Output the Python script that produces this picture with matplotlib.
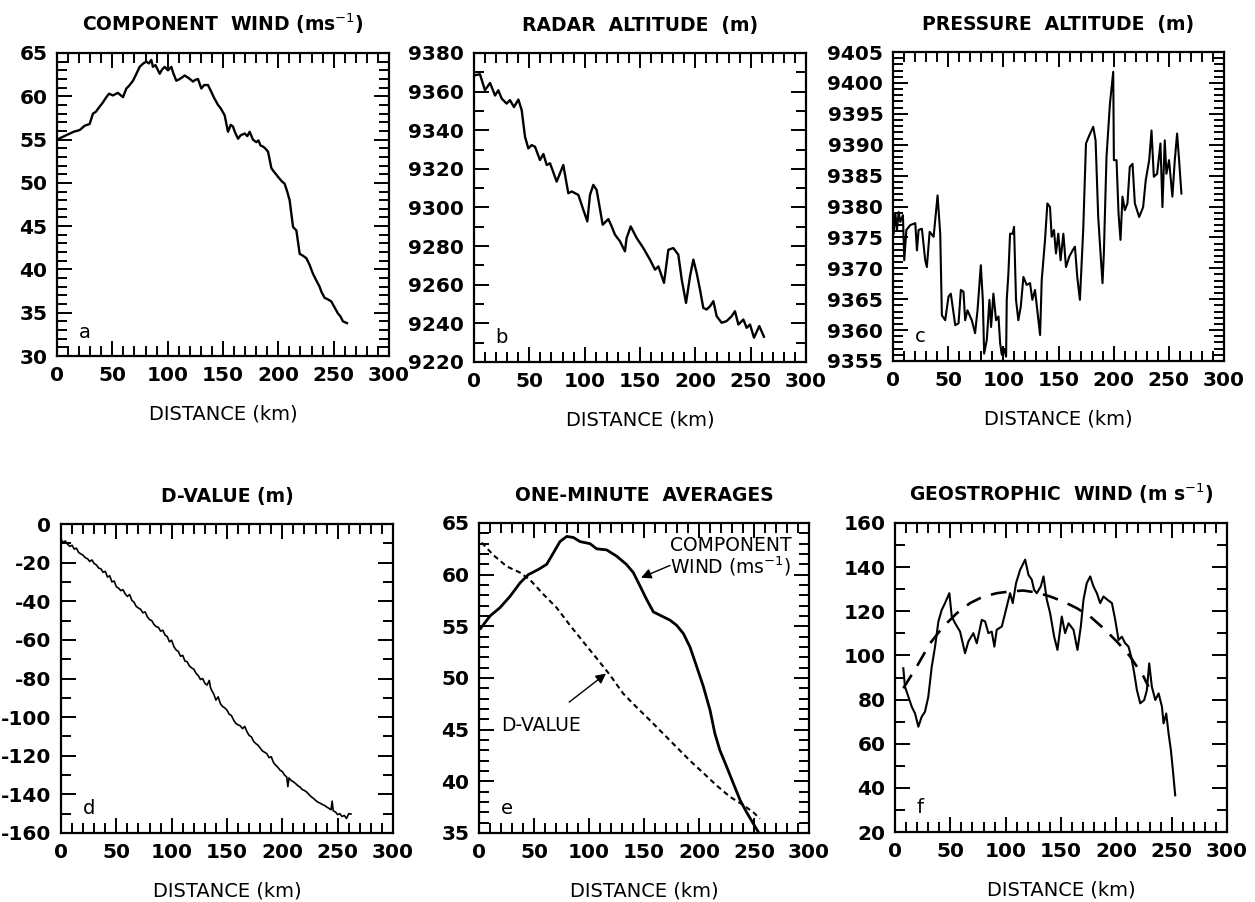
import matplotlib
matplotlib.use("Agg")
import matplotlib.pyplot as plt
from matplotlib.ticker import MultipleLocator

plt.rcParams['font.family'] = ['DejaVu Sans']
plt.rcParams['axes.unicode_minus'] = False

# ---------------- data ----------------
# (a) component wind (m/s)
wind_x = [0, 5, 10, 15, 20.5, 25, 29.5, 32.5, 35, 38.5, 41, 44.6, 47, 50.6, 55, 59.6, 62.7, 65, 68.7, 71, 74.7,
          78, 80.7, 83, 85.2, 86.7, 89, 92.8, 95, 97.3, 100.3, 103.3, 105, 107.8, 111, 115.4, 119, 122.9, 125,
          127.4, 130.4, 133, 136.4, 139.5, 142, 145.5, 148, 151.5, 154.5, 157, 159, 161, 163.6, 166, 169.6, 172,
          174.1, 177, 180.1, 182, 184, 186.1, 188, 190.7, 193.7, 196, 199.7, 203, 205.7, 208, 210.2, 213.3,
          216.3, 219.3, 222, 225.3, 228, 231.3, 234, 237.3, 239, 241.9, 244, 247.9, 250, 253.9, 256, 258.4, 262]
wind_y = [55.0, 55.3, 55.6, 55.9, 56.1, 56.6, 56.8, 58.0, 58.2, 58.8, 59.2, 59.9, 60.3, 60.1, 60.4, 59.9, 60.9,
          61.2, 61.8, 62.4, 63.4, 63.8, 64.0, 63.8, 64.2, 63.4, 63.6, 62.6, 63.1, 63.4, 63.0, 63.4, 62.7, 61.8,
          62.0, 62.4, 62.1, 61.7, 61.9, 62.0, 60.9, 61.3, 61.3, 60.5, 59.8, 59.0, 58.6, 57.8, 55.9, 56.7, 56.5,
          55.8, 55.1, 55.5, 55.7, 55.4, 55.9, 55.0, 54.7, 54.9, 54.3, 54.2, 54.0, 53.6, 51.7, 51.3, 50.7, 50.2,
          49.9, 49.0, 48.0, 44.9, 44.5, 41.8, 41.6, 41.3, 40.6, 39.5, 38.8, 38.0, 37.4, 36.7, 36.6, 36.3, 35.8,
          34.9, 34.6, 34.0, 33.8]

# (b) radar altitude (m)
radar_x = [0.9, 5.4, 9.9, 14.5, 19.0, 22.0, 25.0, 29.5, 32.5, 36.1, 40.1, 43.1, 46.1, 49.1, 52.1, 55.1, 59.6,
           62.7, 65.7, 68.7, 74.7, 80.7, 85.2, 88.3, 94.3, 98.8, 102.4, 104.8, 107.8, 110.8, 116.3, 121.4, 124.4,
           127.4, 131.9, 136.4, 137.9, 141.6, 147.0, 153.0, 159.0, 163.6, 166.6, 171.7, 175.6, 180.1, 184.6,
           187.7, 191.6, 195.2, 198.2, 201.2, 204.2, 207.2, 210.2, 213.3, 216.3, 219.3, 223.8, 228.3, 232.8,
           235.8, 238.9, 243.4, 246.4, 249.4, 253.0, 257.8, 262.0]
radar_y = [9368.5, 9369.0, 9360.7, 9364.5, 9358.0, 9360.7, 9356.4, 9353.8, 9355.6, 9352.0, 9355.9, 9350.4,
           9336.6, 9330.6, 9332.3, 9331.5, 9324.6, 9327.7, 9322.0, 9322.9, 9313.4, 9322.0, 9307.4, 9308.3,
           9306.5, 9298.8, 9292.8, 9306.5, 9311.7, 9309.1, 9291.1, 9294.0, 9290.2, 9285.9, 9282.5, 9277.3,
           9284.2, 9290.2, 9284.2, 9279.0, 9273.0, 9267.8, 9269.5, 9261.0, 9278.1, 9279.0, 9275.6, 9262.7,
           9250.6, 9264.4, 9273.0, 9266.1, 9257.5, 9248.0, 9247.2, 9248.9, 9251.5, 9243.7, 9240.3, 9241.2,
           9243.7, 9246.3, 9239.4, 9242.0, 9237.7, 9239.4, 9232.6, 9238.6, 9233.1]

# (c) pressure altitude (m)
press_x = [0.6, 2.1, 3.6, 5.1, 6.6, 9.0, 10.2, 12.1, 15.7, 20.2, 21.7, 23.2, 26.2, 29.2, 30.7, 33.2, 36.8,
           40.4, 42.8, 44.3, 47.3, 50.3, 52.4, 56.4, 59.4, 61.5, 63.9, 65.4, 67.5, 71.4, 74.4, 76.6, 79.6, 81.4,
           82.6, 85.0, 87.4, 88.9, 91.0, 93.4, 95.6, 97.1, 98.6, 100.7, 102.5, 103.1, 104.6, 106.1, 108.5, 109.7,
           111.5, 113.6, 115.8, 118.2, 121.2, 124.2, 126.3, 128.7, 133.3, 134.8, 137.8, 139.9, 142.3, 143.8,
           145.9, 147.7, 149.8, 151.9, 154.4, 156.8, 159.8, 162.8, 164.9, 167.0, 169.4, 172.4, 174.9, 177.9,
           181.5, 183.6, 186.0, 188.1, 189.9, 191.1, 193.5, 196.6, 199.6, 200.2, 202.6, 204.4, 206.2, 208.0,
           210.1, 212.5, 214.6, 217.1, 219.2, 223.1, 226.7, 229.1, 232.2, 234.3, 236.4, 239.4, 242.4, 244.2,
           246.3, 247.8, 250.2, 253.2, 255.4, 257.5, 259.3, 261.4]
press_y = [9375.6, 9378.9, 9376.2, 9379.1, 9377.5, 9378.6, 9371.3, 9376.2, 9377.0, 9377.3, 9372.9, 9376.2,
           9376.4, 9371.3, 9370.2, 9375.9, 9375.1, 9381.8, 9375.6, 9362.4, 9361.6, 9365.4, 9365.9, 9360.8,
           9361.1, 9366.5, 9366.2, 9361.6, 9363.2, 9361.6, 9359.5, 9363.2, 9370.5, 9364.9, 9356.2, 9358.4,
           9364.9, 9360.5, 9365.9, 9361.6, 9362.2, 9357.9, 9356.0, 9357.0, 9355.7, 9364.9, 9369.2, 9375.6,
           9375.6, 9376.7, 9364.9, 9361.6, 9363.8, 9368.6, 9367.3, 9367.6, 9364.9, 9366.5, 9359.2, 9368.1,
           9374.6, 9380.5, 9379.9, 9375.1, 9376.2, 9372.4, 9375.6, 9371.3, 9375.6, 9370.2, 9371.9, 9372.9,
           9373.5, 9368.6, 9364.9, 9376.2, 9390.2, 9391.5, 9392.9, 9390.7, 9378.3, 9372.4, 9367.6, 9372.4,
           9388.0, 9396.6, 9401.8, 9387.5, 9387.5, 9378.9, 9374.6, 9381.6, 9379.4, 9380.5, 9386.4, 9386.9,
           9380.5, 9378.3, 9379.9, 9384.3, 9387.5, 9392.3, 9384.8, 9385.3, 9390.2, 9379.9, 9390.7, 9385.3,
           9387.5, 9381.6, 9387.5, 9391.8, 9387.5, 9382.1]

# (d) D-value (m)
dval_x = [0, 2, 4, 6, 8, 10, 12, 14, 16, 18, 20, 22, 24, 26, 28, 30, 32, 34, 36, 38, 40, 42, 44, 46, 48, 50,
          52, 54, 56, 58, 60, 62, 64, 66, 68, 70, 72, 74, 76, 78, 80, 82, 84, 86, 88, 90, 92, 94, 96, 98, 100,
          102, 104, 106, 108, 110, 112, 114, 116, 118, 120, 122, 124, 126, 128, 130, 132, 134, 135, 136, 138,
          140, 142, 144, 146, 148, 150, 152, 154, 156, 158, 160, 162, 164, 166, 168, 170, 172, 174, 176, 178,
          180, 182, 184, 186, 188, 190, 192, 194, 196, 198, 200, 202, 204, 205, 206, 208, 210, 212, 214, 216,
          218, 220, 222, 224, 226, 228, 230, 232, 234, 236, 238, 240, 242, 244, 245, 246, 248, 250, 252, 254,
          256, 258, 260, 262]
dval_y = [-8.0, -9.5, -8.8, -10.5, -11.6, -11.0, -13.0, -12.5, -14.8, -15.5, -16.2, -17.5, -18.0, -19.4,
          -18.6, -20.5, -21.2, -22.8, -23.2, -25.0, -24.5, -27.5, -26.8, -30.0, -29.5, -32.5, -33.2, -34.5,
          -34.0, -36.2, -37.5, -36.5, -39.5, -40.5, -42.7, -43.5, -44.2, -46.0, -45.5, -48.0, -49.5, -50.0,
          -52.0, -53.1, -53.5, -55.5, -55.0, -57.5, -58.3, -61.0, -60.2, -63.5, -65.2, -66.0, -68.5, -68.0,
          -71.0, -71.3, -73.5, -74.5, -75.2, -77.3, -78.5, -80.5, -80.0, -82.5, -83.4, -81.0, -84.5, -86.0,
          -88.0, -91.2, -89.5, -93.0, -94.5, -95.2, -96.4, -98.5, -99.2, -101.5, -103.3, -104.0, -104.5,
          -106.0, -104.8, -107.5, -109.5, -110.2, -112.5, -113.7, -114.5, -116.0, -117.5, -118.2, -118.9,
          -121.0, -120.5, -123.5, -124.9, -126.0, -127.5, -128.2, -130.0, -131.0, -136.0, -131.5, -132.8,
          -133.5, -134.4, -135.5, -136.2, -137.5, -138.0, -138.8, -140.0, -141.2, -142.0, -143.1, -144.0,
          -144.5, -145.2, -145.7, -146.5, -147.2, -148.0, -143.5, -148.5, -149.1, -150.5, -150.0, -151.5,
          -150.9, -152.5, -150.0, -150.2]

# (e) one-minute averages
avg_wind_x = [1.5, 10, 19, 28.2, 37.3, 44.8, 53.9, 61.5, 67.6, 73.6, 79.7, 85.8, 91.8, 100.9, 107, 116, 125,
              134, 140.3, 146.4, 152.4, 158.5, 166, 173.6, 179.7, 185.8, 191.8, 197.9, 203.9, 210, 214.5, 219,
              225.2, 231.2, 237.3, 243.3, 249.4, 253.9]
avg_wind_y = [54.8, 56.0, 56.8, 57.9, 59.2, 60.0, 60.5, 61.0, 62.1, 63.2, 63.7, 63.6, 63.2, 63.0, 62.5, 62.4,
              61.8, 61.0, 60.2, 58.9, 57.6, 56.4, 56.0, 55.6, 55.1, 54.3, 53.0, 51.1, 49.2, 46.9, 44.6, 43.0,
              41.4, 39.8, 38.2, 37.0, 35.9, 35.1]
avg_dval_x = [2.4, 13, 25.2, 37.3, 46.4, 58.5, 70.6, 82.7, 94.8, 107, 119, 131, 143, 155.5, 167.6, 179.7,
              191.8, 204, 216, 228.2, 240.3, 249.4, 255.4]
avg_dval_y = [63.1, 61.9, 60.8, 60.2, 59.5, 58.1, 56.8, 55.1, 53.5, 51.9, 50.3, 48.5, 47.2, 45.9, 44.6, 43.3,
              42.0, 40.8, 39.6, 38.5, 37.7, 37.0, 36.4]

# (f) geostrophic wind (m/s) and fitted curve
geo_x = [7.5, 9.0, 12.1, 15.1, 18.1, 21.1, 24.1, 27.1, 30.1, 33.2, 36.2, 39.2, 42.2, 45.2, 49.1, 51.3, 54.3,
         58.8, 63.3, 66.3, 70.8, 73.9, 78.4, 81.4, 84.4, 87.4, 89.8, 91.9, 96.5, 99.5, 104.0, 106.4, 109.4,
         113.1, 117.6, 120.6, 123.6, 125.7, 128.1, 131.7, 134.2, 137.2, 140.2, 143.8, 146.8, 150.7, 153.7,
         156.8, 161.3, 164.9, 167.9, 170.3, 173.3, 176.4, 179.4, 182.4, 185.4, 188.4, 192.0, 196.0, 199.0,
         202.0, 205.0, 208.0, 211.0, 213.4, 216.2, 218.6, 221.6, 225.2, 227.6, 229.7, 232.1, 235.2, 238.2,
         241.2, 242.7, 245.1, 247.2, 249.3, 251.1, 253.2]
geo_y = [94.2, 85.8, 81.3, 76.8, 73.7, 67.7, 72.2, 74.5, 81.3, 94.9, 104.0, 115.4, 120.6, 123.7, 128.2, 117.6,
         114.6, 110.8, 101.0, 106.3, 110.1, 105.5, 116.1, 115.4, 110.1, 110.8, 104.0, 111.6, 113.1, 119.1,
         128.2, 123.7, 132.8, 138.8, 143.4, 136.5, 134.3, 129.7, 128.2, 131.2, 135.8, 125.2, 119.1, 108.5,
         102.5, 117.6, 110.1, 114.6, 111.6, 102.5, 113.1, 125.2, 132.8, 135.8, 131.2, 128.2, 123.7, 126.7,
         125.2, 123.7, 116.1, 107.0, 108.5, 105.5, 104.0, 99.5, 91.9, 84.3, 78.3, 79.8, 84.3, 96.4, 85.8,
         79.8, 82.8, 76.8, 69.2, 73.7, 64.6, 57.1, 48.0, 36.6]
fit_x = [7.5, 19.6, 31.7, 43.7, 55.8, 67.8, 79.9, 92, 104, 116, 128, 140.2, 152.2, 164.3, 176.4, 188.4, 200.5,
         212.5, 224.6, 229.1]
fit_y = [85.1, 94.9, 105.5, 113.1, 119.1, 123.7, 126.7, 128.2, 129.0, 129.4, 128.5, 126.7, 124.4, 121.4,
         117.6, 112.3, 106.3, 99.5, 90.4, 85.8]

titles = ["COMPONENT  WIND (ms$^{-1}$)", "RADAR  ALTITUDE  (m)", "PRESSURE  ALTITUDE  (m)",
          "D-VALUE (m)", "ONE-MINUTE  AVERAGES", "GEOSTROPHIC  WIND (m s$^{-1}$)"]
panel_letters = ["a", "b", "c", "d", "e", "f"]
y_limits = [(30, 65), (9220, 9380), (9355, 9405), (-160, 0), (35, 65), (20, 160)]
y_major = [5, 20, 5, 20, 5, 20]
y_minor = [1, 10, 1, 10, 1, 10]
xlabel = "DISTANCE (km)"

# ---------------- figure ----------------
W, H = 1255, 902
fig = plt.figure(figsize=(W / 100, H / 100), dpi=100)

boxes_px = [(57, 53, 389, 356), (474, 53, 806, 362), (893, 52, 1224, 361),
            (61, 524, 393, 833), (479, 523, 809, 833), (895, 523, 1227, 832)]

axes = []
for (l, t, r, b) in boxes_px:
    ax = fig.add_axes([l / W, 1 - b / H, (r - l) / W, (b - t) / H])
    axes.append(ax)

lw = 1.7
axes[0].plot(wind_x, wind_y, color='black', lw=lw)
axes[1].plot(radar_x, radar_y, color='black', lw=lw)
axes[2].plot(press_x, press_y, color='black', lw=1.5)
axes[3].plot(dval_x, dval_y, color='black', lw=1.2)
axes[4].plot(avg_wind_x, avg_wind_y, color='black', lw=2.0)
axes[4].plot(avg_dval_x, avg_dval_y, color='black', lw=1.5, linestyle=(0, (2.5, 1.8)))
axes[5].plot(geo_x, geo_y, color='black', lw=1.5)
axes[5].plot(fit_x, fit_y, color='black', lw=1.9, linestyle=(0, (6, 4)))

for i, ax in enumerate(axes):
    ax.set_xlim(0, 300)
    ax.set_ylim(*y_limits[i])
    ax.xaxis.set_major_locator(MultipleLocator(50))
    ax.xaxis.set_minor_locator(MultipleLocator(10))
    ax.yaxis.set_major_locator(MultipleLocator(y_major[i]))
    ax.yaxis.set_minor_locator(MultipleLocator(y_minor[i]))
    ax.tick_params(which='both', direction='in', top=True, right=True, width=1.4, colors='black')
    ax.tick_params(which='major', length=11, pad=7, labelsize=14.5)
    ax.tick_params(which='minor', length=7.5)
    for lab in ax.get_xticklabels() + ax.get_yticklabels():
        lab.set_fontweight('bold')
    for s in ax.spines.values():
        s.set_linewidth(1.6)
    ax.set_title(titles[i], fontsize=13.5, fontweight='bold', pad=16)
    ax.set_xlabel(xlabel, fontsize=14, labelpad=14)
    ax.text(0.065, 0.06, panel_letters[i], transform=ax.transAxes, fontsize=14)

# annotations panel e
axe = axes[4]
axe.text(174, 61.7, "COMPONENT\nWIND (ms$^{-1}$)", fontsize=13.5, ha='left', va='center', linespacing=1.0)
axe.annotate("", xy=(145, 59.6), xytext=(176, 61.0),
             arrowprops=dict(arrowstyle='-|>', color='black', lw=1.0, mutation_scale=15))
axe.text(20, 45.4, "D-VALUE", fontsize=13.5, ha='left', va='center')
axe.annotate("", xy=(117.5, 50.6), xytext=(80, 47.5),
             arrowprops=dict(arrowstyle='-|>', color='black', lw=1.0, mutation_scale=15))

fig.savefig("out.png", dpi=100)
